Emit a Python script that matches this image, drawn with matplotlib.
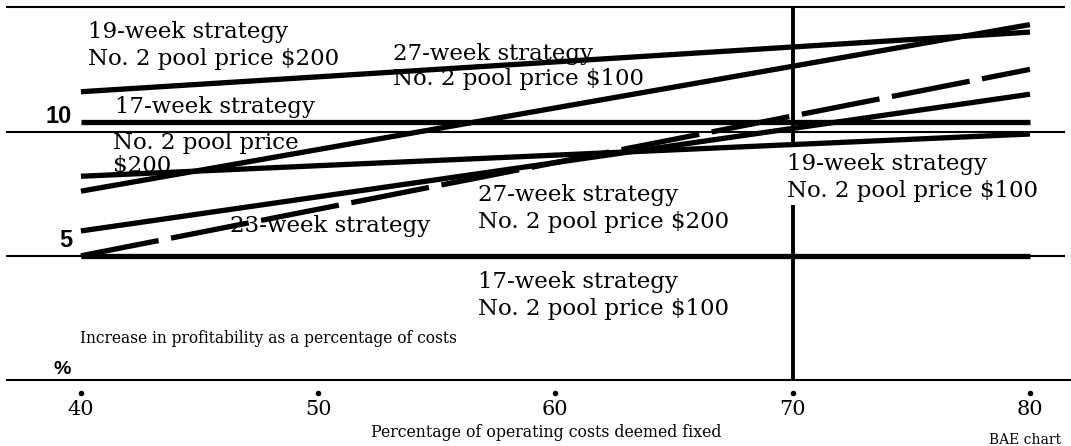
import numpy as np
from matplotlib import pyplot as plt

# x positions: percentage of operating costs deemed fixed
x_ends = [40, 80]

# increase in profitability (% of costs) at 40 and 80
s19_200 = [11.6, 14.0]
s27_100 = [7.6, 14.3]
s17_200 = [10.4, 10.4]
s19_100 = [8.2, 9.9]
s27_200 = [6.0, 11.5]
s23 = [5.0, 12.5]
s17_100 = [5.0, 5.0]

grid_levels = [0, 5, 10, 15]
y_labels = {10: "10", 5: "5"}
xticks = [40, 50, 60, 70, 80]

serif = "DejaVu Serif"

fig = plt.figure(figsize=(10.71, 4.46), dpi=100)
ax = fig.add_axes([0, 0, 1, 1])
ax.set_xlim(36.59, 81.73)
ax.set_ylim(-2.65, 15.29)
ax.axis("off")

# reference lines
for g in grid_levels:
    ax.axhline(g, xmin=0.007, xmax=0.993 if g else 1.0, color="black", lw=1.5)

# vertical marker at 70, broken for the label
ax.vlines(70, 9.45, 15, color="black", lw=2.8)
ax.vlines(70, 0, 7.05, color="black", lw=2.8)

# the strategy lines
lw = 3.8
for s in [s19_200, s27_100, s17_200, s19_100, s27_200, s17_100]:
    ax.plot(x_ends, s, color="black", lw=lw, solid_capstyle="butt")
ax.plot(x_ends, s23, color="black", lw=lw, dashes=(15, 2.4))

# tick dots and labels
ax.plot(xticks, np.full(len(xticks), -0.5), "o", color="black", ms=3)
for t in xticks:
    ax.text(t, -1.2, str(t), ha="center", va="center", family=serif, fontsize=15)

for v, lab in y_labels.items():
    ax.text(39.62, v + 0.35, lab, ha="right", va="baseline",
            family="Liberation Sans", weight="bold", fontsize=17)
ax.text(39.2, 0.25, "%", ha="center", va="baseline",
        family="Liberation Sans", weight="bold", fontsize=14)

# line labels (y = baseline of the last line)
fs = 16.5
ls = 1.3
ax.text(40.3, 12.68, "19-week strategy\nNo. 2 pool price $200", family=serif,
        fontsize=fs, va="baseline", linespacing=ls)
ax.text(53.15, 11.87, "27-week strategy\nNo. 2 pool price $100", family=serif,
        fontsize=fs, va="baseline", linespacing=1.15)
ax.text(41.43, 10.75, "17-week strategy", family=serif, fontsize=fs, va="baseline")
ax.text(41.35, 8.37, "No. 2 pool price\n$200", family=serif, fontsize=fs,
        va="baseline", linespacing=1.05)
ax.text(56.73, 6.12, "27-week strategy\nNo. 2 pool price $200", family=serif,
        fontsize=fs, va="baseline", linespacing=ls)
ax.text(46.28, 5.96, "23-week strategy", family=serif, fontsize=fs, va="baseline")
ax.text(69.76, 7.35, "19-week strategy\nNo. 2 pool price $100", family=serif,
        fontsize=fs, va="baseline", linespacing=ls)
ax.text(56.73, 2.62, "17-week strategy\nNo. 2 pool price $100", family=serif,
        fontsize=fs, va="baseline", linespacing=ls)

ax.text(39.96, 1.5, "Increase in profitability as a percentage of costs",
        family=serif, fontsize=11.2, va="baseline")
ax.text(59.6, -2.12, "Percentage of operating costs deemed fixed",
        family=serif, fontsize=11.3, ha="center", va="center")
ax.text(79.8, -2.4, "BAE chart", family=serif, fontsize=10,
        ha="center", va="center")

fig.savefig("out.png", dpi=100)
